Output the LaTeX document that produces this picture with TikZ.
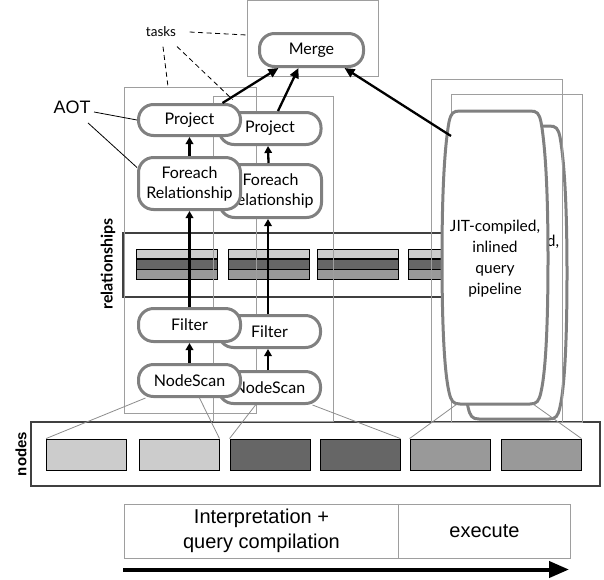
\documentclass[tikz,border=0pt]{standalone}
\usepackage{fontspec}
\setmainfont{Lato}
\newfontfamily\helv{Liberation Sans}
\usetikzlibrary{arrows.meta}

\definecolor{pillgray}{gray}{0.5}
\definecolor{framegray}{gray}{0.62}
\definecolor{bardark}{gray}{0.25}
\definecolor{lightblk}{gray}{0.8}
\definecolor{darkblk}{gray}{0.4}
\definecolor{midblk}{gray}{0.6}
\definecolor{linegray}{gray}{0.55}

\tikzset{
  pill/.style={draw=pillgray, line width=3pt, fill=white, rounded corners=15pt,
    minimum width=102pt, inner sep=0pt, align=center,
    font=\fontsize{16}{20}\selectfont},
  frame/.style={draw=framegray, line width=0.9pt, inner sep=0pt},
  barbox/.style={draw=bardark, line width=1.1pt, inner sep=0pt},
  datablk/.style={draw=black, line width=0.9pt, inner sep=0pt,
    minimum width=80pt, minimum height=31pt},
  flow/.style={line width=2.3pt, -{Triangle[length=7pt,width=7.5pt]}},
  toMerge/.style={line width=2.3pt, -{Triangle[length=10pt,width=9pt]}},
  dataline/.style={draw=linegray, line width=0.8pt},
  callout/.style={draw=black, line width=0.8pt},
  taskline/.style={draw=black, line width=0.8pt, dash pattern=on 5pt off 3.5pt},
  jitshape/.style={draw=pillgray, line width=3pt, fill=white},
  jittext/.style={align=center, font=\fontsize{15.5}{21}\selectfont},
  helvtext/.style={align=center, font=\helv\fontsize{20}{25}\selectfont},
}

\begin{document}
\begin{tikzpicture}[x=1pt, y=-1pt]
\useasboundingbox (0,0) rectangle (604,579);

% ---- relationship storage ----
\draw[barbox] (123,233) rectangle (470,297);
\foreach \x in {136,228,317,408} {
  \fill[lightblk] (\x,249) rectangle (\x+81,259);
  \fill[darkblk] (\x,259) rectangle (\x+81,269.5);
  \fill[midblk] (\x,269.5) rectangle (\x+81,279.5);
  \draw[black, line width=0.9pt] (\x,249) rectangle (\x+81,279.5);
  \draw[black, line width=1.2pt] (\x,259) -- (\x+81,259) (\x,269.5) -- (\x+81,269.5);
}
\node[rotate=90, font=\bfseries\fontsize{16}{18}\selectfont] (rellabel) at (108,264) {relationships};

% ---- node storage ----
\node[barbox, minimum width=569pt, minimum height=64pt] (nodesbar) at (315.5,454) {};
\node[datablk, fill=lightblk] (b1) at (86.5,454.5) {};
\node[datablk, fill=lightblk] (b2) at (179,454.5) {};
\node[datablk, fill=darkblk]  (b3) at (270,454.5) {};
\node[datablk, fill=darkblk]  (b4) at (360,454.5) {};
\node[datablk, fill=midblk]   (b5) at (450,454.5) {};
\node[datablk, fill=midblk]   (b6) at (541,454.5) {};
\node[rotate=90, font=\helv\bfseries\fontsize{15}{18}\selectfont] (nodeslabel) at (21,454) {nodes};

% ---- second compiled pipeline (behind) ----
\begin{scope}[shift={(19,15)}]
  \path[jitshape] (460,111) -- (530,111)
    .. controls (537,111) and (539,113) .. (541,122)
    .. controls (546,150) and (548,200) .. (548,258)
    .. controls (548,320) and (546,370) .. (541,392)
    .. controls (539,401) and (537,404) .. (530,404)
    -- (460,404)
    .. controls (453,404) and (451,401) .. (449,392)
    .. controls (444,370) and (442,320) .. (442,258)
    .. controls (442,200) and (444,150) .. (449,122)
    .. controls (451,113) and (453,111) .. (460,111) -- cycle;
  \node[jittext] (jitback) at (495,259) {JIT-compiled,\\inlined\\query\\pipeline};
\end{scope}

% ---- task frames ----
\node[frame, minimum width=131pt, minimum height=76pt] (MF) at (312.5,38.5) {};
\node[frame, minimum width=132pt, minimum height=326pt] (T1) at (190,250) {};
\node[frame, minimum width=120pt, minimum height=325pt] (T2) at (273,258.5) {};
\node[frame, minimum width=131pt, minimum height=343pt] (JA) at (496.5,250.5) {};
\node[frame, minimum width=131pt, minimum height=328pt] (JB) at (516.5,258) {};

% ---- front compiled pipeline ----
\path[jitshape] (460,111) -- (530,111)
  .. controls (537,111) and (539,113) .. (541,122)
  .. controls (546,150) and (548,200) .. (548,258)
  .. controls (548,320) and (546,370) .. (541,392)
  .. controls (539,401) and (537,404) .. (530,404)
  -- (460,404)
  .. controls (453,404) and (451,401) .. (449,392)
  .. controls (444,370) and (442,320) .. (442,258)
  .. controls (442,200) and (444,150) .. (449,122)
  .. controls (451,113) and (453,111) .. (460,111) -- cycle;
\node[jittext] (jit) at (495,259) {JIT-compiled,\\inlined\\query\\pipeline};
\coordinate (jitL) at (451,136);
\coordinate (jitBL) at (457,404);
\coordinate (jitBR) at (533,404);

% ---- interpreted operators, second task ----
\node[pill, minimum height=32pt] (P2)  at (270,128.5) {Project};
\node[pill, minimum height=53pt] (F2)  at (270.5,191) {Foreach\\Relationship};
\node[pill, minimum height=32pt] (Fi2) at (269.5,331.5) {Filter};
\node[pill, minimum height=32pt] (N2)  at (269.5,387.5) {NodeScan};

% ---- interpreted operators, first task ----
\node[pill, minimum height=31pt] (P1)  at (189.5,120) {Project};
\node[pill, minimum height=52pt] (F1)  at (189.5,183.5) {Foreach\\Relationship};
\node[pill, minimum height=33pt] (Fi1) at (189.5,325) {Filter};
\node[pill, minimum height=32pt] (N1)  at (189.5,380.5) {NodeScan};

\node[pill, minimum width=104pt, minimum height=33pt] (Merge) at (311.5,50) {Merge};

% ---- data access lines ----
\draw[dataline] ([xshift=-44pt]N1.south) -- (b1.north west);
\draw[dataline] ([xshift=10pt]N1.south) -- (b2.north east);
\draw[dataline] ([xshift=-14pt]N2.south) -- (b3.north west);
\draw[dataline] ([xshift=43pt]N2.south) -- (b4.north east);
\draw[dataline] (jitBL) -- (b5.north west);
\draw[dataline] (jitBR) -- (b6.north east);

% ---- data flow ----
\draw[flow] (F1.north) -- (P1.south);
\draw[flow] (Fi1.north) -- (F1.south);
\draw[flow] (N1.north) -- (Fi1.south);
\draw[flow] ([xshift=-2pt]F2.north) -- ([xshift=-2pt]P2.south);
\draw[flow] ([xshift=-1.5pt]Fi2.north) -- ([xshift=-2.5pt]F2.south);
\draw[flow] ([xshift=-1.5pt]N2.north) -- ([xshift=-1.5pt]Fi2.south);
\draw[toMerge] ([xshift=33pt]P1.north) -- ([xshift=-33pt]Merge.south);
\draw[toMerge] ([xshift=8pt]P2.north) -- ([xshift=-13pt]Merge.south);
\draw[toMerge] (jitL) -- ([xshift=33pt]Merge.south);

% ---- annotations ----
\node[font=\fontsize{13.5}{15}\selectfont] (tasks) at (161,32) {tasks};
\draw[taskline] ([xshift=10pt]tasks.east) -- ([yshift=3.5pt]MF.west);
\draw[taskline] ([xshift=2pt,yshift=-6pt]tasks.south) -- ([xshift=-22pt]T1.north);
\draw[taskline] ([xshift=16pt,yshift=-6pt]tasks.south) -- ([shift={(20pt,-4pt)}]T2.north west);

\node[font=\helv\fontsize{18}{20}\selectfont] (aot) at (72,107) {AOT};
\draw[callout] ([yshift=-5pt]aot.east) -- (P1.west);
\draw[callout] ([shift={(16pt,-6pt)}]aot.south) -- ([yshift=16pt]F1.west);

% ---- time line ----
\node[frame, minimum width=446pt, minimum height=54pt] (tline) at (347,531) {};
\draw[frame] ([xshift=275pt]tline.north west) -- ([xshift=275pt]tline.south west);
\node[helvtext] (interp) at (261.5,531) {Interpretation +\\query compilation};
\node[helvtext] (exec) at (484.5,531) {execute};
\coordinate (t0) at (123,569.5);
\coordinate (t1) at (569,569.5);
\draw[line width=4pt, -{Triangle[length=20pt,width=16pt]}] (t0) -- (t1);
\end{tikzpicture}
\end{document}
